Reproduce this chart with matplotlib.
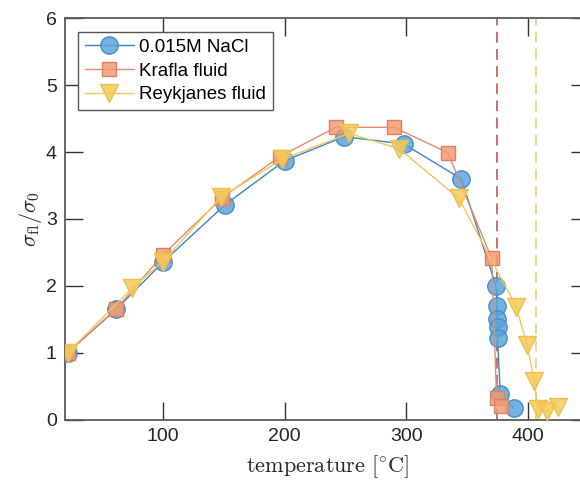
import matplotlib
matplotlib.use("Agg")
import matplotlib.pyplot as plt
from matplotlib.colors import to_rgba

# ---- data ----
T_nacl = [22, 62, 100, 151, 200, 249, 298, 345, 373.5, 374.5, 374.5, 374.8, 374.8, 377, 388]
s_nacl = [1.0, 1.65, 2.35, 3.21, 3.87, 4.23, 4.12, 3.60, 2.0, 1.7, 1.5, 1.38, 1.22, 0.38, 0.17]

T_krafla = [22, 62, 100, 149, 196, 242, 290, 334, 370, 374, 378]
s_krafla = [1.0, 1.66, 2.46, 3.32, 3.93, 4.37, 4.37, 3.99, 2.41, 0.32, 0.21]

T_reyk = [22, 75, 100, 148, 198, 253, 294, 343, 390, 399, 405, 408, 415, 424]
s_reyk = [1.0, 1.97, 2.36, 3.33, 3.89, 4.28, 4.05, 3.31, 1.69, 1.12, 0.57, 0.16, 0.13, 0.19]

T_crit_water = 374
T_crit_reyk = 406

labels = ["0.015M NaCl", "Krafla fluid", "Reykjanes fluid"]
xticks = [100, 200, 300, 400]
yticks = [0, 1, 2, 3, 4, 5, 6]

plt.rcParams["font.family"] = ["Liberation Sans", "DejaVu Sans"]
plt.rcParams["mathtext.fontset"] = "cm"

W, H = 580, 487
fig = plt.figure(figsize=(W / 100, H / 100), dpi=100)
ax = fig.add_axes([65.2 / W, 67.4 / H, 524 / W, 401.3 / H])

ax.axvline(T_crit_water, color="#c0685c", lw=1.3, dashes=(6, 3.5), zorder=1)
ax.axvline(T_crit_reyk, color="#f3d27a", lw=1.3, dashes=(6, 3.5), zorder=1)

ax.plot(T_nacl, s_nacl, "-o", color="#3d84c4", lw=1.0, ms=12.5,
        mfc=to_rgba("#5aa5dc", 0.85), mec="#4a8fc8", mew=1.0, label=labels[0], zorder=3)
ax.plot(T_krafla, s_krafla, "-s", color="#e8896a", lw=1.0, ms=10,
        mfc=to_rgba("#f19c74", 0.85), mec="#e0805e", mew=1.0, label=labels[1], zorder=4)
ax.plot(T_reyk, s_reyk, "-v", color="#f0c860", lw=1.0, ms=13,
        mfc=to_rgba("#f6ca58", 0.85), mec="#ecc050", mew=1.0, label=labels[2], zorder=5)

ax.set_xlim(20, 450)
ax.set_ylim(0, 6)
ax.set_xticks(xticks)
ax.set_yticks(yticks)

for sp in ax.spines.values():
    sp.set_color("#5a5a5a")
    sp.set_linewidth(1.3)

ax.tick_params(direction="in", length=13, width=1.0, color="#333333",
               labelsize=14, labelcolor="#262626", top=True, right=True, pad=6)

ax.set_xlabel(r"$\mathrm{temperature}\ [^{\circ}\mathrm{C}]$", fontsize=16, color="#262626", labelpad=6)
ax.set_ylabel(r"$\sigma_{\mathrm{fl}}/\sigma_0$", fontsize=16, color="#262626", labelpad=1)

leg = ax.legend(loc="upper left", bbox_to_anchor=(13 / 524, 1 - 14 / 401.3), borderaxespad=0,
                fancybox=False, framealpha=1, edgecolor="#555555", fontsize=13.5,
                handlelength=2.6, handletextpad=0.3, borderpad=0.35, labelspacing=0.35)
leg.get_frame().set_linewidth(1.0)

fig.savefig("out.png", dpi=100)
